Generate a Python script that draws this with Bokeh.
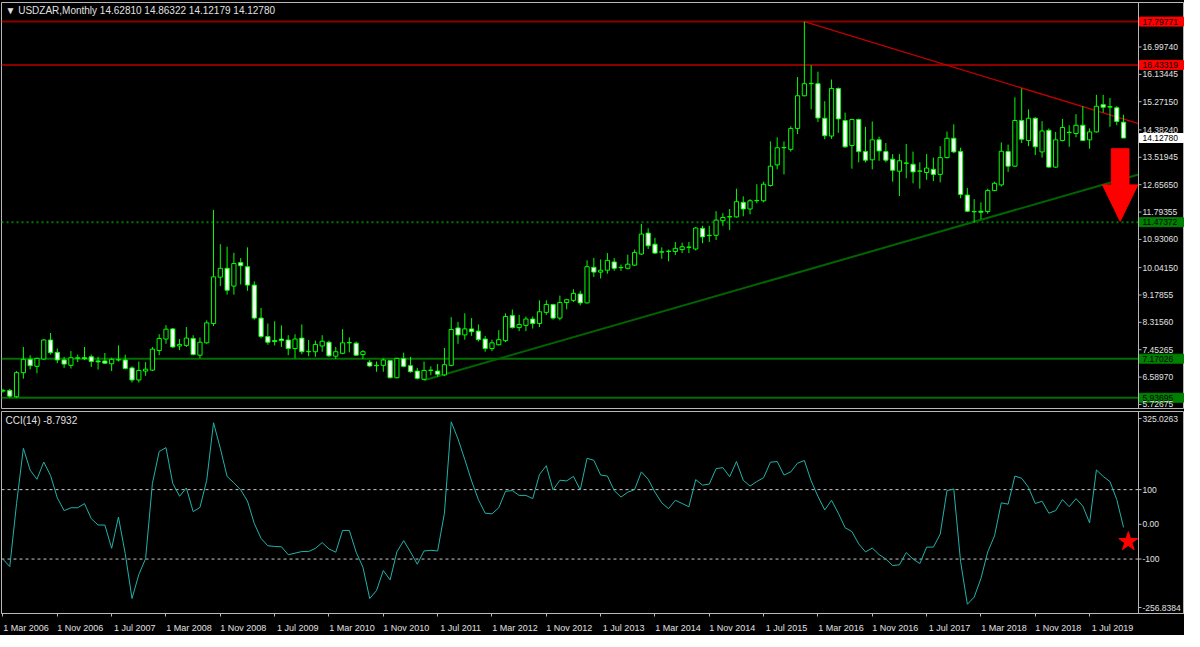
from bokeh.plotting import figure
from bokeh.layouts import column
from bokeh.models import FixedTicker, Range1d, Label, ColumnDataSource, LinearAxis
from bokeh.core.properties import value
from bokeh.embed import file_html
from bokeh.resources import INLINE

# ---------------- data ----------------
opens = [6.15, 6.17, 5.97, 6.73, 7.15, 6.93, 7.16, 7.76, 7.37, 7.13,
         6.96, 7.18, 7.20, 7.23, 7.10, 7.10, 7.01, 7.13, 7.13, 6.88,
         6.50, 6.78, 6.81, 7.43, 7.79, 8.11, 7.57, 7.59, 7.81, 7.28,
         7.67, 8.28, 9.74, 10.02, 9.46, 10.20, 10.07, 9.49, 8.45, 7.87,
         7.74, 7.79, 7.76, 7.49, 7.82, 7.39, 7.39, 7.57, 7.69, 7.25,
         7.34, 7.67, 7.66, 7.30, 7.06, 6.96, 6.96, 7.11, 6.57, 7.18,
         6.95, 6.78, 6.52, 6.80, 6.78, 6.66, 6.96, 8.14, 7.92, 8.11,
         8.04, 7.79, 7.49, 7.61, 7.74, 8.53, 8.15, 8.22, 8.42, 8.28,
         8.63, 8.88, 8.45, 8.94, 9.01, 9.21, 8.93, 10.05, 9.90, 9.96,
         10.22, 10.04, 10.02, 10.12, 10.47, 11.13, 10.78, 10.53, 10.55, 10.55,
         10.61, 10.68, 10.63, 11.28, 11.05, 11.06, 11.52, 11.64, 11.64, 12.10,
         11.89, 12.15, 12.15, 12.63, 13.28, 13.82, 13.77, 14.43, 15.46, 15.84,
         15.84, 14.75, 14.19, 15.69, 14.68, 13.89, 14.71, 13.70, 13.44, 14.07,
         13.70, 13.46, 13.08, 13.33, 13.30, 13.08, 13.04, 13.14, 12.98, 13.51,
         14.12, 13.70, 12.33, 11.80, 11.82, 11.81, 12.47, 12.65, 13.70, 13.24,
         14.68, 14.05, 14.75, 13.69, 14.37, 13.21, 14.05, 14.30, 14.27, 14.53,
         14.07, 14.32, 15.18, 15.10, 15.08, 14.62810]
highs = [6.22, 6.22, 6.78, 7.54, 7.28, 7.20, 7.79, 7.98, 7.49, 7.23,
         7.41, 7.30, 7.54, 7.30, 7.23, 7.35, 7.20, 7.59, 7.30, 6.93,
         7.08, 7.06, 7.54, 7.94, 8.23, 8.14, 7.79, 8.17, 7.91, 7.84,
         8.38, 11.86, 10.78, 10.70, 10.51, 10.34, 10.68, 9.61, 8.77, 8.28,
         8.35, 8.22, 7.91, 7.94, 8.25, 7.76, 7.74, 7.91, 7.74, 7.54,
         8.10, 7.84, 7.71, 7.44, 7.13, 7.08, 7.18, 7.13, 7.20, 7.36,
         7.23, 6.88, 7.08, 6.93, 7.00, 7.51, 8.48, 8.33, 8.60, 8.45,
         8.25, 7.89, 7.77, 8.07, 8.60, 8.72, 8.55, 8.50, 8.50, 9.01,
         9.01, 8.90, 9.16, 9.06, 9.36, 9.31, 10.27, 10.35, 10.30, 10.50,
         10.34, 10.14, 10.45, 10.61, 11.42, 11.28, 10.98, 10.68, 10.61, 10.85,
         10.83, 10.85, 11.32, 11.36, 11.36, 11.82, 11.76, 11.89, 12.53, 12.29,
         12.20, 12.67, 12.75, 14.02, 14.15, 14.02, 14.50, 16.05, 17.79771, 16.42,
         16.22, 15.29, 15.97, 15.72, 14.93, 14.73, 14.74, 14.48, 14.65, 14.17,
         13.97, 13.62, 13.62, 13.94, 13.70, 13.36, 13.62, 13.51, 13.87, 14.33,
         14.56, 13.82, 12.55, 12.20, 12.10, 12.53, 12.75, 13.99, 13.92, 15.41,
         15.69, 15.03, 14.78, 14.66, 14.43, 14.32, 14.73, 14.53, 14.88, 15.13,
         14.43, 15.49, 15.49, 15.39, 15.13, 14.86322]
lows = [6.10, 5.94, 5.94, 6.54, 6.83, 6.71, 7.14, 7.30, 7.03, 6.88,
        6.86, 7.06, 7.13, 6.91, 6.83, 7.00, 6.78, 7.08, 6.83, 6.42,
        6.42, 6.63, 6.78, 7.28, 7.64, 7.51, 7.44, 7.54, 7.28, 7.18,
        7.64, 8.20, 9.46, 9.19, 9.19, 9.51, 9.31, 8.40, 7.81, 7.61,
        7.59, 7.54, 7.28, 7.18, 7.31, 7.25, 7.23, 7.39, 7.23, 7.16,
        7.31, 7.37, 7.26, 7.16, 6.91, 6.76, 6.76, 6.55, 6.55, 6.90,
        6.73, 6.52, 6.49, 6.65, 6.60, 6.62, 6.93, 7.64, 7.77, 7.89,
        7.71, 7.39, 7.41, 7.59, 7.69, 8.12, 8.04, 8.04, 8.12, 8.17,
        8.55, 8.40, 8.38, 8.73, 8.96, 8.85, 8.91, 9.75, 9.70, 9.85,
        9.94, 9.94, 9.99, 10.09, 10.44, 10.63, 10.47, 10.32, 10.24, 10.44,
        10.50, 10.50, 10.58, 10.81, 10.85, 10.91, 11.36, 11.23, 11.62, 11.66,
        11.72, 12.07, 12.10, 12.60, 13.14, 12.98, 13.70, 14.25, 15.44, 15.03,
        14.63, 14.09, 14.10, 14.29, 13.82, 13.16, 13.36, 13.36, 13.14, 13.41,
        13.36, 12.75, 12.30, 12.86, 12.70, 12.53, 12.81, 12.77, 12.73, 13.48,
        13.65, 12.23, 11.79, 11.46, 11.57, 11.74, 12.45, 12.60, 13.06, 13.21,
        13.97, 13.87, 13.59, 13.51, 13.19, 13.19, 14.02, 13.85, 14.15, 14.03,
        13.79, 14.30, 14.93, 14.48, 14.53, 14.12179]
closes = [6.17, 5.99, 6.73, 7.15, 6.95, 7.18, 7.76, 7.36, 7.13, 7.00,
          7.20, 7.20, 7.17, 7.08, 7.07, 7.03, 7.15, 7.14, 6.86, 6.50,
          6.80, 6.84, 7.47, 7.81, 8.10, 7.54, 7.62, 7.82, 7.30, 7.69,
          8.30, 9.75, 10.02, 9.33, 10.17, 10.10, 9.49, 8.45, 7.87, 7.69,
          7.71, 7.74, 7.49, 7.79, 7.39, 7.40, 7.62, 7.72, 7.26, 7.39,
          7.67, 7.68, 7.28, 7.39, 6.94, 6.95, 7.13, 6.57, 7.18, 6.93,
          6.76, 6.55, 6.80, 6.81, 6.68, 6.98, 8.09, 7.92, 8.11, 8.02,
          7.77, 7.49, 7.67, 7.77, 8.50, 8.15, 8.25, 8.42, 8.28, 8.65,
          8.88, 8.45, 8.94, 9.03, 9.23, 8.93, 10.07, 9.90, 9.96, 10.27,
          10.02, 10.05, 10.15, 10.52, 11.10, 10.73, 10.50, 10.54, 10.56, 10.65,
          10.70, 10.69, 11.29, 11.01, 11.06, 11.54, 11.62, 11.65, 12.12, 11.89,
          12.15, 12.16, 12.67, 13.24, 13.82, 13.83, 14.43, 15.46, 15.84, 15.85,
          14.76, 14.20, 15.69, 14.73, 13.85, 14.71, 13.70, 13.43, 14.07, 13.72,
          13.43, 13.11, 13.41, 13.34, 13.06, 13.09, 13.18, 12.98, 13.51, 14.12,
          13.69, 12.35, 11.82, 11.81, 11.79, 12.47, 12.70, 13.71, 13.24, 14.68,
          14.09, 14.75, 13.85, 14.35, 13.21, 14.07, 14.46, 14.31, 14.53, 14.05,
          14.32, 15.13, 15.10, 15.12, 14.65, 14.12780]
cci_values = [-100.5, -121.7, 60.0, 219.0, 156.0, 129.7, 179.4, 140.8, 76.3, 39.5,
              47.8, 47.8, 59.7, 16.4, -2.0, -2.0, -69.0, 21.0, -84.8, -213.7,
              -144.7, -98.6, 117.7, 209.8, 220.9, 117.7, 80.9, 104.8, 36.7, 48.7,
              126.9, 292.7, 219.0, 138.0, 119.6, 99.3, 67.1, 2.6, -40.6, -61.8,
              -63.7, -64.6, -87.6, -83.0, -78.4, -78.4, -69.2, -52.6, -71.0, -80.2,
              -17.6, -17.6, -80.2, -123.5, -213.7, -190.7, -133.0, -160.0, -79.5, -47.0,
              -79.5, -114.9, -76.7, -74.9, -76.7, 32.1, 295.3, 246.0, 186.5, 125.0,
              71.2, 32.1, 30.2, 47.9, 95.3, 97.2, 83.3, 83.3, 74.0, 143.7,
              168.8, 99.1, 127.0, 125.1, 138.1, 99.1, 190.2, 184.6, 141.9, 139.1,
              97.2, 78.6, 92.6, 100.0, 151.2, 129.8, 92.6, 61.9, 45.1, 69.3,
              60.0, 50.7, 128.8, 113.0, 115.8, 160.5, 163.3, 137.2, 180.9, 127.0,
              110.2, 123.3, 134.4, 179.0, 180.9, 141.9, 151.2, 176.3, 183.7, 125.1,
              80.5, 41.4, 69.3, 32.1, -9.8, -20.9, -56.3, -79.5, -68.3, -87.0,
              -100.0, -118.6, -116.7, -81.4, -100.0, -113.0, -65.6, -65.6, -28.4, 97.2,
              101.9, -107.0, -230.2, -209.7, -155.8, -79.5, -33.0, 61.9, 58.1, 139.1,
              132.6, 106.5, 60.0, 66.5, 32.1, 39.5, 71.2, 50.7, 74.0, 52.6,
              4.2, 156.7, 138.1, 123.3, 71.2, -8.7932]
months = list(range(len(closes)))

date_tick_months = [0, 8, 16, 24, 32, 40, 48, 56, 64, 72, 80, 88, 96, 104, 112, 120, 128, 136, 144, 152, 160]
date_tick_labels = ["1 Mar 2006", "1 Nov 2006", "1 Jul 2007", "1 Mar 2008", "1 Nov 2008", "1 Jul 2009",
                    "1 Mar 2010", "1 Nov 2010", "1 Jul 2011", "1 Mar 2012", "1 Nov 2012", "1 Jul 2013",
                    "1 Mar 2014", "1 Nov 2014", "1 Jul 2015", "1 Mar 2016", "1 Nov 2016", "1 Jul 2017",
                    "1 Mar 2018", "1 Nov 2018", "1 Jul 2019"]
price_ticks = [16.99740, 16.13445, 15.27150, 14.38240, 13.51945, 12.65650, 11.79355,
               10.93060, 10.04150, 9.17855, 8.31560, 7.45265, 6.58970, 5.72675]
cci_levels = [100, -100]
cci_ticks = [100, 0, -100]
cci_tick_labels = ["100", "0.00", "-100"]
cci_min, cci_max = -256.8384, 325.0263

red_levels = [17.79771, 16.43319]
green_solid_levels = [7.17026, 5.93695]
green_dotted_level = 11.47372
last_price = 14.12780

resistance_k = [118, 167.2]
resistance_p = [17.79771, 14.58]
support_k = [62, 167.2]
support_p = [6.49, 12.98]

arrow_k = [163.2, 165.8, 165.8, 167.1, 164.5, 161.9, 163.2]
arrow_p = [13.79, 13.79, 12.65, 12.65, 11.50, 12.65, 12.65]
star_k, star_cci = 165.7, -49.8

# ---------------- geometry / styling ----------------
BG = "#000000"
FG = "#E0E0E0"
GRID = "#B8B8B8"
FONT = "Liberation Sans"
SCALE_FS = "8.5px"
FRAME_W = 1183          # frame spans chart + price-scale strip
CHART_W = 1137          # pixels used by the chart itself
X0, X1 = -0.22, 167.2
PPM = CHART_W / (X1 - X0)             # pixels per month
X_END = X0 + FRAME_W / PPM
P0, P1 = 5.60, 18.40
MAIN_FH, CCI_FH = 406, 202
PPP = MAIN_FH / (P1 - P0)             # pixels per price unit
PPC = CCI_FH / (cci_max - cci_min)    # pixels per CCI unit


def base_style(p):
    p.background_fill_color = BG
    p.border_fill_color = BG
    p.outline_line_color = GRID
    p.outline_line_width = 1
    p.xgrid.visible = False
    p.ygrid.visible = False
    p.min_border_left = 1
    p.min_border_right = 0


def price_scale(p, ylo, yhi, ticks, labels):
    p.segment(x0=[X1], y0=[ylo], x1=[X1], y1=[yhi], line_color=GRID, line_width=1)
    p.segment(x0=[X1] * len(ticks), y0=ticks, x1=[X1 + 3 / PPM] * len(ticks), y1=ticks,
              line_color=GRID, line_width=1)
    p.text(x=[X1] * len(ticks), y=ticks, text=labels, x_offset=4,
           text_baseline="middle", text_align="left", text_color=FG,
           text_font=value(FONT), text_font_size=value(SCALE_FS))


def axis_tag(p, y, txt, bg, fg, ppu):
    h = 9 / ppu
    p.quad(left=[X1 + 1 / PPM], right=[X_END - 1 / PPM], bottom=[y - h / 2], top=[y + h / 2],
           fill_color=bg, line_color=bg)
    p.text(x=[X1], y=[y], text=[txt], x_offset=4, text_baseline="middle", text_align="left",
           text_color=fg, text_font=value(FONT), text_font_size=value(SCALE_FS))


# ---------------- main price panel ----------------
main = figure(frame_width=FRAME_W, frame_height=MAIN_FH, x_range=Range1d(X0, X_END),
              y_range=Range1d(P0, P1), x_axis_location=None, y_axis_location=None,
              output_backend="svg", toolbar_location=None, tools="")
base_style(main)
main.min_border_top = 2
main.min_border_bottom = 2

for lv in red_levels:
    main.segment(x0=[X0], y0=[lv], x1=[X1], y1=[lv], line_color="#8C0000", line_width=2)
for lv in green_solid_levels:
    main.segment(x0=[X0], y0=[lv], x1=[X1], y1=[lv], line_color="#006E00", line_width=2)
main.segment(x0=[X0], y0=[green_dotted_level], x1=[X1], y1=[green_dotted_level],
             line_color="#007A00", line_width=2, line_dash="2 3")

main.line(resistance_k, resistance_p, line_color="#C00000", line_width=1.3)
main.line(support_k, support_p, line_color="#006400", line_width=2)

bull = [c >= o for o, c in zip(opens, closes)]
src = ColumnDataSource(dict(
    x=months, high=highs, low=lows,
    top=[max(o, c) for o, c in zip(opens, closes)],
    bottom=[min(o, c) for o, c in zip(opens, closes)],
    fill=["#000000" if b else "#FFFFFF" for b in bull],
))
main.segment(x0="x", y0="low", x1="x", y1="high", source=src, line_color="#00FF00", line_width=1)
main.vbar(x="x", top="top", bottom="bottom", width=0.62, source=src,
          fill_color="fill", line_color="#00FF00", line_width=1)

main.patch(arrow_k, arrow_p, fill_color="#FF0000", line_color="#FF0000")

axis_tag(main, red_levels[0], f"{red_levels[0]:.5f}", "#FF0000", "#000000", PPP)
axis_tag(main, red_levels[1], f"{red_levels[1]:.5f}", "#FF0000", "#000000", PPP)
axis_tag(main, last_price, f"{last_price:.5f}", "#FFFFFF", "#000000", PPP)
axis_tag(main, green_dotted_level, f"{green_dotted_level:.5f}", "#008000", "#000000", PPP)
axis_tag(main, green_solid_levels[0], f"{green_solid_levels[0]:.5f}", "#008000", "#000000", PPP)
axis_tag(main, green_solid_levels[1], f"{green_solid_levels[1]:.5f}", "#008000", "#000000", PPP)
price_scale(main, P0, P1, price_ticks, [f"{v:.5f}" for v in price_ticks])

main.add_layout(Label(x=X0, y=P1 - 2 / PPP, x_offset=4, text_baseline="top",
                      text="\u25BC USDZAR,Monthly  14.62810 14.86322 14.12179 14.12780",
                      text_color=FG, text_font=FONT, text_font_size="10px"))

# ---------------- CCI panel ----------------
cci = figure(frame_width=FRAME_W, frame_height=CCI_FH, x_range=main.x_range,
             y_range=Range1d(cci_min, cci_max), y_axis_location=None,
             output_backend="svg", toolbar_location=None, tools="")
base_style(cci)
cci.min_border_top = 1
cci.min_border_bottom = 0

cci.xaxis.ticker = FixedTicker(ticks=date_tick_months)
cci.xaxis.axis_line_color = GRID
cci.xaxis.major_tick_line_color = GRID
cci.xaxis.major_tick_in = 0
cci.xaxis.major_tick_out = 3
cci.xaxis.minor_tick_line_color = None
cci.xaxis.major_label_text_color = None
cci.xaxis.major_label_text_font_size = "1px"
cci.xaxis.major_label_standoff = 0

label_shift = 23 / PPM
label_pos = [m + label_shift for m in date_tick_months]
date_axis = LinearAxis(ticker=FixedTicker(ticks=label_pos),
                       major_label_overrides=dict(zip(label_pos, date_tick_labels)),
                       axis_line_color=None, major_tick_line_color=None, minor_tick_line_color=None,
                       major_label_text_color=FG, major_label_text_font=FONT,
                       major_label_text_font_size="9px", major_label_standoff=0)
cci.add_layout(date_axis, "below")

for lv in cci_levels:
    cci.segment(x0=[X0], y0=[lv], x1=[X1], y1=[lv], line_color="#C8C8C8",
                line_width=1, line_dash="3 3")
cci.line(months, cci_values, line_color="#20B2AA", line_width=1)
cci.scatter([star_k], [star_cci], marker="star", size=20, fill_color="#FF0000", line_color="#FF0000")

top_pos = cci_max - 7 / PPC
bot_pos = cci_min + 6 / PPC
price_scale(cci, cci_min, cci_max, [top_pos] + cci_ticks + [bot_pos],
            [f"{cci_max:.4f}"] + cci_tick_labels + [f"{cci_min:.4f}"])

cci.add_layout(Label(x=X0, y=cci_max - 3 / PPC, x_offset=4, text_baseline="top",
                     text="CCI(14) -8.7932", text_color=FG, text_font=FONT, text_font_size="10px"))

layout = column(main, cci, spacing=0, styles={"background-color": "#000000"})
open("out.html", "w").write(file_html(layout, INLINE))
